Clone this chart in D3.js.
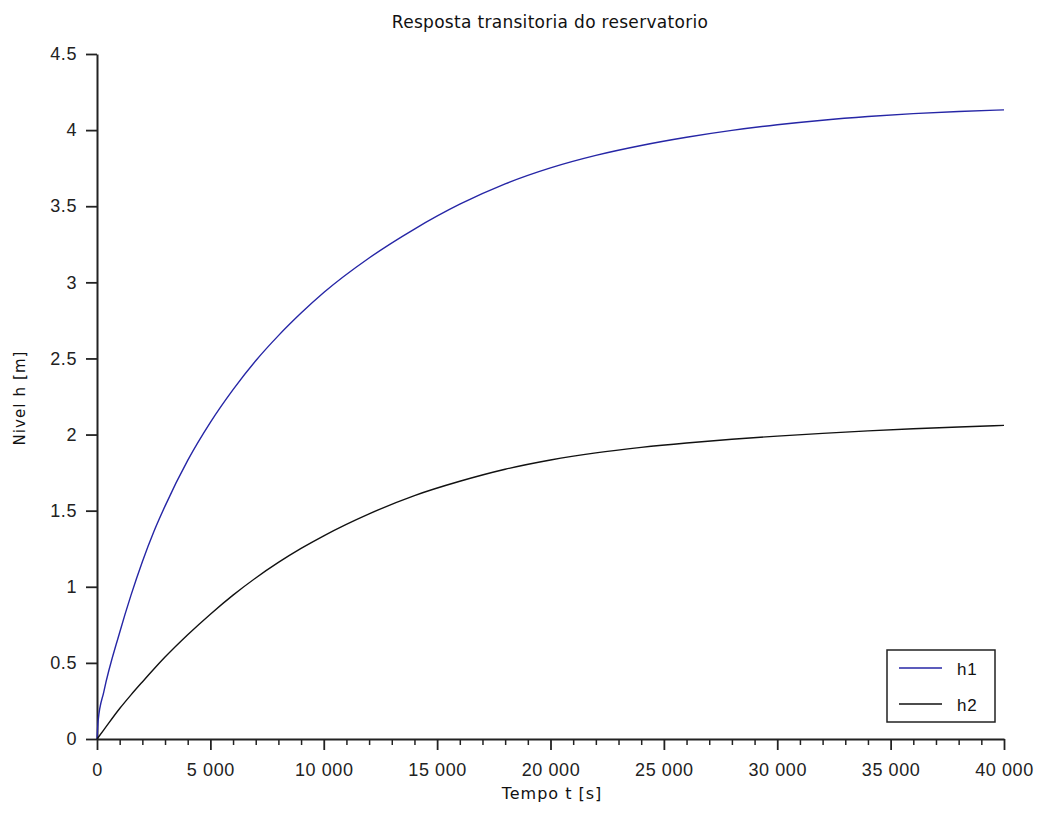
<!DOCTYPE html>
<html>
<head>
<meta charset="utf-8">
<script src="https://cdn.jsdelivr.net/npm/d3@7"></script>
<style>
  body { margin: 0; background: #fff; }
  svg { display: block; }
  .tick text { font-family: "Liberation Sans", Arial, sans-serif; font-size: 18px; fill: #222; letter-spacing: 0.6px; }
</style>
</head>
<body>
<svg id="chart"></svg>
<script>
const width = 1040;
const height = 819;

// values (time in s, level in m)
const times = [0, 50, 300, 1000, 1500, 2000, 2500, 3000, 4000, 5000, 6000, 7000, 8000, 9000, 10000,
  12000, 14000, 16000, 18000, 20000, 22000, 24000, 26000, 28000, 30000, 32000, 34000, 36000, 38000, 40000];
const h1 = [0, 0.12, 0.31, 0.70, 0.945, 1.165, 1.36, 1.53, 1.83, 2.08, 2.295, 2.485, 2.65, 2.798, 2.933,
  3.16, 3.35, 3.513, 3.647, 3.752, 3.834, 3.899, 3.953, 3.998, 4.035, 4.065, 4.089, 4.108, 4.122, 4.133];
const h2 = [0, 0.01, 0.06, 0.20, 0.29, 0.375, 0.458, 0.538, 0.685, 0.82, 0.945, 1.058, 1.16, 1.252, 1.335,
  1.479, 1.599, 1.693, 1.772, 1.833, 1.88, 1.916, 1.945, 1.969, 1.99, 2.008, 2.024, 2.038, 2.05, 2.06];
const seriesNames = ["h1", "h2"];
const seriesColors = ["#2626a6", "#111111"];
const xTicks = [0, 5000, 10000, 15000, 20000, 25000, 30000, 35000, 40000];
const yTicks = [0, 0.5, 1, 1.5, 2, 2.5, 3, 3.5, 4, 4.5];

const svg = d3.select('#chart')
    .attr('width', width)
    .attr('height', height);

var x = d3.scaleLinear().domain([0, 40000]).range([97, 1004]);
var y = d3.scaleLinear().domain([0, 4.5]).range([739, 54]);

var fr = d3.formatLocale({decimal: ".", thousands: " ", grouping: [3], currency: ["", ""]});
var fmtX = fr.format(",");

// minor x ticks
var minor = d3.range(0, 40001, 1000).filter(d => d % 5000 != 0);
svg.append('g')
    .attr('transform', 'translate(0,739)')
    .call(d3.axisBottom(x).tickValues(minor).tickSize(6).tickFormat(''))
    .call(g => g.select('.domain').remove())
    .call(g => g.selectAll('line').attr('stroke', '#222').attr('stroke-width', 1.5));

// major x ticks
var gx = svg.append('g')
    .attr('transform', 'translate(0,739)')
    .call(d3.axisBottom(x).tickValues(xTicks).tickSize(11).tickSizeOuter(0).tickPadding(13).tickFormat(fmtX));
gx.select('.domain').attr('stroke', '#222').attr('stroke-width', 2);
gx.selectAll('line').attr('stroke', '#222').attr('stroke-width', 1.8);

// y axis
var gy = svg.append('g')
    .attr('transform', 'translate(97,0)')
    .call(d3.axisLeft(y).tickValues(yTicks).tickSize(11).tickSizeOuter(0).tickPadding(9).tickFormat(d3.format('~')));
gy.select('.domain').attr('stroke', '#222').attr('stroke-width', 2);
gy.selectAll('line').attr('stroke', '#222').attr('stroke-width', 1.8);

// curves
var line = d3.line()
    .x((d, i) => x(times[i]))
    .y(d => y(d))
    .curve(d3.curveMonotoneX);

[h1, h2].forEach(function(vals, k) {
  svg.append('path')
      .datum(vals)
      .attr('fill', 'none')
      .attr('stroke', seriesColors[k])
      .attr('stroke-width', 1.4)
      .attr('d', line);
});

// titles
svg.append('text')
    .attr('x', 550).attr('y', 28)
    .attr('text-anchor', 'middle')
    .style('font-family', 'DejaVu Sans, sans-serif')
    .style('font-size', '17px')
    .style('letter-spacing', '0.3px')
    .style('fill', '#111')
    .text('Resposta transitoria do reservatorio');

svg.append('text')
    .attr('x', 552).attr('y', 799)
    .attr('text-anchor', 'middle')
    .style('font-family', 'DejaVu Sans, sans-serif')
    .style('font-size', '16px')
    .style('letter-spacing', '1px')
    .style('fill', '#111')
    .text('Tempo t [s]');

svg.append('text')
    .attr('transform', 'translate(25,398) rotate(-90)')
    .attr('text-anchor', 'middle')
    .style('font-family', 'DejaVu Sans, sans-serif')
    .style('font-size', '15px')
    .style('letter-spacing', '1.1px')
    .style('fill', '#111')
    .text('Nivel h [m]');

// legend
var legend = svg.append('g');
legend.append('rect')
    .attr('x', 887).attr('y', 650)
    .attr('width', 108).attr('height', 72)
    .attr('fill', '#fff')
    .attr('stroke', '#222')
    .attr('stroke-width', 1.5);

var item = legend.selectAll('g.item')
    .data(seriesNames)
    .enter().append('g')
    .attr('class', 'item')
    .attr('transform', (d, i) => 'translate(0,' + (668 + i * 36) + ')');

item.append('line')
    .attr('x1', 899).attr('x2', 942)
    .attr('stroke', (d, i) => seriesColors[i])
    .attr('stroke-width', 1.4);

item.append('text')
    .attr('x', 957).attr('y', 7)
    .style('font-family', 'Liberation Sans, Arial, sans-serif')
    .style('font-size', '17px')
    .style('letter-spacing', '0.8px')
    .style('fill', '#111')
    .text(d => d);
</script>
</body>
</html>
